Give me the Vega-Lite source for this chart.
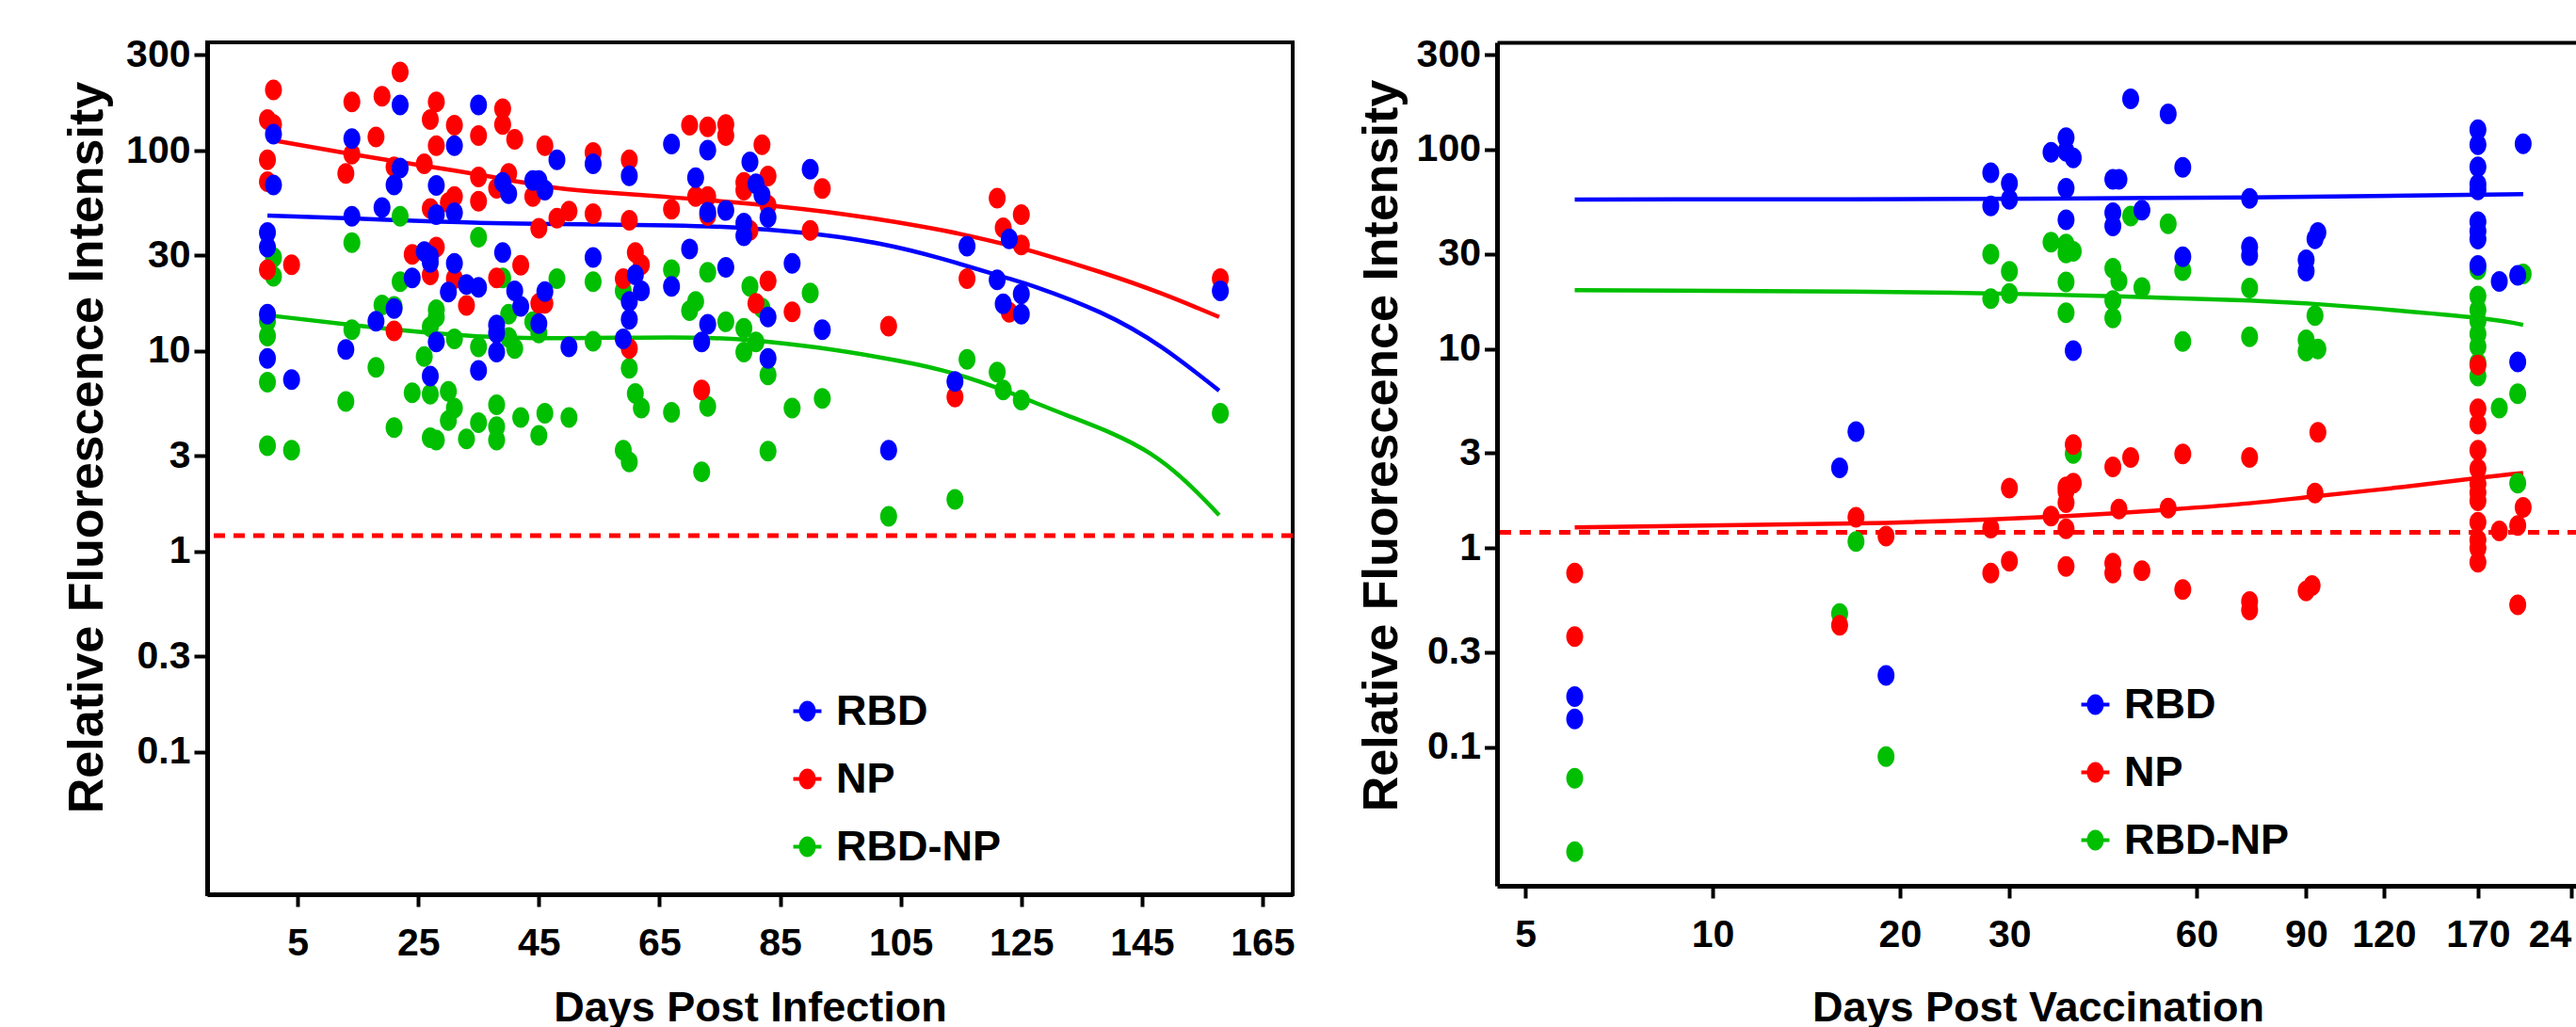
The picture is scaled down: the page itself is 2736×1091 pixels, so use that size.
{
  "$schema": "https://vega.github.io/schema/vega-lite/v6.json",
  "background": "white",
  "padding": {"left": 63, "top": 35, "right": 0, "bottom": 0},
  "bounds": "flush",
  "spacing": 217,
  "config": {
    "font": "Liberation Sans",
    "view": {"stroke": "black", "strokeWidth": 4},
    "axis": {"grid": false, "domainColor": "black", "tickColor": "black", "labelColor": "black", "titleColor": "black", "labelFont": "Liberation Sans", "titleFont": "Liberation Sans", "labelFontWeight": "bold", "titleFontWeight": "bold"},
    "legend": {"labelFont": "Liberation Sans", "labelFontWeight": "bold", "labelColor": "black", "labelLimit": 400}
  },
  "datasets": {
    "thr": [{"value": 1.2}],
    "leftpts": [
      {"antigen":"RBD-NP","day":0,"value":14.1},{"antigen":"RBD-NP","day":0,"value":11.9},{"antigen":"RBD-NP","day":0,"value":7},{"antigen":"RBD-NP","day":0,"value":3.37},{"antigen":"RBD-NP","day":1,"value":29.3},{"antigen":"RBD-NP","day":1,"value":23.6},{"antigen":"RBD-NP","day":4,"value":3.2},{"antigen":"RBD-NP","day":13,"value":5.6},{"antigen":"RBD-NP","day":14,"value":34.8},{"antigen":"RBD-NP","day":14,"value":12.8},{"antigen":"RBD-NP","day":18,"value":8.3},{"antigen":"RBD-NP","day":19,"value":17},{"antigen":"RBD-NP","day":21,"value":16.7},{"antigen":"RBD-NP","day":21,"value":4.15},{"antigen":"RBD-NP","day":22,"value":47},{"antigen":"RBD-NP","day":22,"value":22.2},{"antigen":"RBD-NP","day":24,"value":6.2},{"antigen":"RBD-NP","day":26,"value":9.4},{"antigen":"RBD-NP","day":27,"value":13.2},{"antigen":"RBD-NP","day":27,"value":6.1},{"antigen":"RBD-NP","day":27,"value":3.7},{"antigen":"RBD-NP","day":28,"value":16.1},{"antigen":"RBD-NP","day":28,"value":14.8},{"antigen":"RBD-NP","day":28,"value":3.6},{"antigen":"RBD-NP","day":30,"value":6.3},{"antigen":"RBD-NP","day":30,"value":4.5},{"antigen":"RBD-NP","day":31,"value":11.5},{"antigen":"RBD-NP","day":31,"value":5.2},{"antigen":"RBD-NP","day":33,"value":3.65},{"antigen":"RBD-NP","day":35,"value":37},{"antigen":"RBD-NP","day":35,"value":10.5},{"antigen":"RBD-NP","day":35,"value":4.4},{"antigen":"RBD-NP","day":38,"value":5.4},{"antigen":"RBD-NP","day":38,"value":4.2},{"antigen":"RBD-NP","day":38,"value":3.6},{"antigen":"RBD-NP","day":39,"value":23.2},{"antigen":"RBD-NP","day":40,"value":15.3},{"antigen":"RBD-NP","day":40,"value":11.7},{"antigen":"RBD-NP","day":41,"value":10.3},{"antigen":"RBD-NP","day":42,"value":4.66},{"antigen":"RBD-NP","day":44,"value":14},{"antigen":"RBD-NP","day":45,"value":12.3},{"antigen":"RBD-NP","day":45,"value":3.8},{"antigen":"RBD-NP","day":46,"value":4.9},{"antigen":"RBD-NP","day":48,"value":23},{"antigen":"RBD-NP","day":50,"value":4.66},{"antigen":"RBD-NP","day":54,"value":22.2},{"antigen":"RBD-NP","day":54,"value":11.2},{"antigen":"RBD-NP","day":59,"value":20},{"antigen":"RBD-NP","day":59,"value":3.2},{"antigen":"RBD-NP","day":60,"value":8.2},{"antigen":"RBD-NP","day":60,"value":2.8},{"antigen":"RBD-NP","day":61,"value":6.15},{"antigen":"RBD-NP","day":62,"value":5.2},{"antigen":"RBD-NP","day":67,"value":25.5},{"antigen":"RBD-NP","day":67,"value":4.95},{"antigen":"RBD-NP","day":70,"value":15.9},{"antigen":"RBD-NP","day":71,"value":17.7},{"antigen":"RBD-NP","day":72,"value":2.5},{"antigen":"RBD-NP","day":73,"value":24.7},{"antigen":"RBD-NP","day":73,"value":5.3},{"antigen":"RBD-NP","day":76,"value":14},{"antigen":"RBD-NP","day":79,"value":13},{"antigen":"RBD-NP","day":79,"value":9.9},{"antigen":"RBD-NP","day":80,"value":21},{"antigen":"RBD-NP","day":81,"value":11.1},{"antigen":"RBD-NP","day":82,"value":16.4},{"antigen":"RBD-NP","day":83,"value":7.6},{"antigen":"RBD-NP","day":83,"value":3.17},{"antigen":"RBD-NP","day":87,"value":5.2},{"antigen":"RBD-NP","day":90,"value":19.5},{"antigen":"RBD-NP","day":92,"value":5.8},{"antigen":"RBD-NP","day":103,"value":1.5},{"antigen":"RBD-NP","day":114,"value":1.82},{"antigen":"RBD-NP","day":116,"value":9.1},{"antigen":"RBD-NP","day":121,"value":7.85},{"antigen":"RBD-NP","day":122,"value":6.4},{"antigen":"RBD-NP","day":125,"value":5.7},{"antigen":"RBD-NP","day":158,"value":4.9},
      {"antigen":"NP","day":0,"value":143},{"antigen":"NP","day":0,"value":90},{"antigen":"NP","day":0,"value":70},{"antigen":"NP","day":0,"value":25.5},{"antigen":"NP","day":1,"value":201},{"antigen":"NP","day":1,"value":135},{"antigen":"NP","day":4,"value":27},{"antigen":"NP","day":13,"value":77},{"antigen":"NP","day":14,"value":175},{"antigen":"NP","day":14,"value":96},{"antigen":"NP","day":18,"value":117},{"antigen":"NP","day":19,"value":187},{"antigen":"NP","day":21,"value":83},{"antigen":"NP","day":21,"value":12.6},{"antigen":"NP","day":22,"value":247},{"antigen":"NP","day":24,"value":30.4},{"antigen":"NP","day":26,"value":86},{"antigen":"NP","day":27,"value":143},{"antigen":"NP","day":27,"value":51.5},{"antigen":"NP","day":27,"value":24},{"antigen":"NP","day":28,"value":175},{"antigen":"NP","day":28,"value":106},{"antigen":"NP","day":28,"value":33},{"antigen":"NP","day":30,"value":55},{"antigen":"NP","day":31,"value":134},{"antigen":"NP","day":31,"value":59},{"antigen":"NP","day":31,"value":23},{"antigen":"NP","day":33,"value":16.9},{"antigen":"NP","day":35,"value":119},{"antigen":"NP","day":35,"value":74},{"antigen":"NP","day":35,"value":56},{"antigen":"NP","day":38,"value":65},{"antigen":"NP","day":38,"value":23.2},{"antigen":"NP","day":39,"value":162},{"antigen":"NP","day":39,"value":135},{"antigen":"NP","day":40,"value":77},{"antigen":"NP","day":41,"value":114},{"antigen":"NP","day":42,"value":26.8},{"antigen":"NP","day":44,"value":59},{"antigen":"NP","day":45,"value":41},{"antigen":"NP","day":45,"value":17.3},{"antigen":"NP","day":46,"value":106},{"antigen":"NP","day":46,"value":17.3},{"antigen":"NP","day":48,"value":46},{"antigen":"NP","day":50,"value":50},{"antigen":"NP","day":54,"value":98},{"antigen":"NP","day":54,"value":48.5},{"antigen":"NP","day":59,"value":23},{"antigen":"NP","day":60,"value":90},{"antigen":"NP","day":60,"value":45},{"antigen":"NP","day":60,"value":10.3},{"antigen":"NP","day":61,"value":31},{"antigen":"NP","day":62,"value":27},{"antigen":"NP","day":67,"value":51},{"antigen":"NP","day":70,"value":134},{"antigen":"NP","day":71,"value":59},{"antigen":"NP","day":72,"value":6.4},{"antigen":"NP","day":73,"value":131.5},{"antigen":"NP","day":73,"value":59},{"antigen":"NP","day":73,"value":47.5},{"antigen":"NP","day":76,"value":135},{"antigen":"NP","day":76,"value":119},{"antigen":"NP","day":79,"value":69.5},{"antigen":"NP","day":79,"value":63.5},{"antigen":"NP","day":80,"value":40},{"antigen":"NP","day":81,"value":17.3},{"antigen":"NP","day":82,"value":107},{"antigen":"NP","day":83,"value":74.7},{"antigen":"NP","day":83,"value":53.4},{"antigen":"NP","day":83,"value":22.4},{"antigen":"NP","day":87,"value":15.7},{"antigen":"NP","day":90,"value":40},{"antigen":"NP","day":92,"value":64.7},{"antigen":"NP","day":103,"value":13.3},{"antigen":"NP","day":114,"value":5.9},{"antigen":"NP","day":116,"value":23},{"antigen":"NP","day":121,"value":58},{"antigen":"NP","day":122,"value":41.2},{"antigen":"NP","day":123,"value":15.6},{"antigen":"NP","day":125,"value":48},{"antigen":"NP","day":125,"value":33.8},{"antigen":"NP","day":158,"value":23},
      {"antigen":"RBD","day":0,"value":39},{"antigen":"RBD","day":0,"value":33},{"antigen":"RBD","day":0,"value":15.3},{"antigen":"RBD","day":0,"value":9.2},{"antigen":"RBD","day":1,"value":121},{"antigen":"RBD","day":1,"value":67.5},{"antigen":"RBD","day":4,"value":7.2},{"antigen":"RBD","day":13,"value":10.2},{"antigen":"RBD","day":14,"value":115},{"antigen":"RBD","day":14,"value":47},{"antigen":"RBD","day":18,"value":14.1},{"antigen":"RBD","day":19,"value":52},{"antigen":"RBD","day":21,"value":67.5},{"antigen":"RBD","day":21,"value":16.3},{"antigen":"RBD","day":22,"value":169},{"antigen":"RBD","day":22,"value":82},{"antigen":"RBD","day":24,"value":23.2},{"antigen":"RBD","day":26,"value":31.4},{"antigen":"RBD","day":27,"value":29.8},{"antigen":"RBD","day":27,"value":27.7},{"antigen":"RBD","day":27,"value":7.5},{"antigen":"RBD","day":28,"value":67},{"antigen":"RBD","day":28,"value":48},{"antigen":"RBD","day":28,"value":11.1},{"antigen":"RBD","day":30,"value":19.7},{"antigen":"RBD","day":31,"value":106},{"antigen":"RBD","day":31,"value":49},{"antigen":"RBD","day":31,"value":27.4},{"antigen":"RBD","day":33,"value":21.5},{"antigen":"RBD","day":35,"value":169},{"antigen":"RBD","day":35,"value":20.8},{"antigen":"RBD","day":35,"value":8},{"antigen":"RBD","day":38,"value":13.5},{"antigen":"RBD","day":38,"value":12.3},{"antigen":"RBD","day":38,"value":9.9},{"antigen":"RBD","day":39,"value":69.5},{"antigen":"RBD","day":39,"value":31},{"antigen":"RBD","day":40,"value":61},{"antigen":"RBD","day":41,"value":20},{"antigen":"RBD","day":42,"value":16.7},{"antigen":"RBD","day":44,"value":71},{"antigen":"RBD","day":45,"value":71},{"antigen":"RBD","day":45,"value":13.7},{"antigen":"RBD","day":46,"value":63.5},{"antigen":"RBD","day":46,"value":19.8},{"antigen":"RBD","day":48,"value":90},{"antigen":"RBD","day":50,"value":10.5},{"antigen":"RBD","day":54,"value":86},{"antigen":"RBD","day":54,"value":29.3},{"antigen":"RBD","day":59,"value":11.5},{"antigen":"RBD","day":60,"value":75},{"antigen":"RBD","day":60,"value":17.7},{"antigen":"RBD","day":60,"value":14.4},{"antigen":"RBD","day":61,"value":24},{"antigen":"RBD","day":62,"value":20},{"antigen":"RBD","day":67,"value":108},{"antigen":"RBD","day":67,"value":21},{"antigen":"RBD","day":70,"value":32.3},{"antigen":"RBD","day":71,"value":73.3},{"antigen":"RBD","day":72,"value":11.1},{"antigen":"RBD","day":73,"value":100.7},{"antigen":"RBD","day":73,"value":49.3},{"antigen":"RBD","day":73,"value":13.6},{"antigen":"RBD","day":76,"value":50.3},{"antigen":"RBD","day":76,"value":26.2},{"antigen":"RBD","day":79,"value":43.5},{"antigen":"RBD","day":79,"value":37.6},{"antigen":"RBD","day":80,"value":87.9},{"antigen":"RBD","day":81,"value":68.3},{"antigen":"RBD","day":82,"value":60.2},{"antigen":"RBD","day":83,"value":46.4},{"antigen":"RBD","day":83,"value":14.8},{"antigen":"RBD","day":83,"value":9.2},{"antigen":"RBD","day":87,"value":27.4},{"antigen":"RBD","day":90,"value":80.8},{"antigen":"RBD","day":92,"value":12.8},{"antigen":"RBD","day":103,"value":3.2},{"antigen":"RBD","day":114,"value":7.05},{"antigen":"RBD","day":116,"value":33.4},{"antigen":"RBD","day":121,"value":22.7},{"antigen":"RBD","day":122,"value":17.2},{"antigen":"RBD","day":123,"value":36.3},{"antigen":"RBD","day":125,"value":19.3},{"antigen":"RBD","day":125,"value":15.3},{"antigen":"RBD","day":158,"value":20}
    ],
    "leftfit": [
      {"antigen":"RBD","day":0,"value":47.4},{"antigen":"RBD","day":14,"value":45.9},{"antigen":"RBD","day":28.8,"value":44.2},{"antigen":"RBD","day":44.4,"value":43.2},{"antigen":"RBD","day":66.9,"value":42.4},{"antigen":"RBD","day":80.8,"value":40.8},{"antigen":"RBD","day":91.3,"value":38.2},{"antigen":"RBD","day":101.6,"value":34.3},{"antigen":"RBD","day":112,"value":28.8},{"antigen":"RBD","day":122.5,"value":23.2},{"antigen":"RBD","day":127.6,"value":20.8},{"antigen":"RBD","day":138.1,"value":15.6},{"antigen":"RBD","day":148.4,"value":10.4},{"antigen":"RBD","day":157.8,"value":6.35},
      {"antigen":"NP","day":0,"value":114},{"antigen":"NP","day":14,"value":96},{"antigen":"NP","day":26,"value":84},{"antigen":"NP","day":35,"value":76},{"antigen":"NP","day":46,"value":66.5},{"antigen":"NP","day":54,"value":62.5},{"antigen":"NP","day":67,"value":58.5},{"antigen":"NP","day":81,"value":54},{"antigen":"NP","day":96,"value":48},{"antigen":"NP","day":112,"value":40},{"antigen":"NP","day":122.5,"value":34},{"antigen":"NP","day":127.6,"value":31},{"antigen":"NP","day":138.1,"value":24.8},{"antigen":"NP","day":148.4,"value":19.3},{"antigen":"NP","day":157.8,"value":14.8},
      {"antigen":"RBD-NP","day":0,"value":15.1},{"antigen":"RBD-NP","day":14,"value":13.5},{"antigen":"RBD-NP","day":28.8,"value":12.2},{"antigen":"RBD-NP","day":44.4,"value":11.6},{"antigen":"RBD-NP","day":66.9,"value":11.7},{"antigen":"RBD-NP","day":80.8,"value":11.3},{"antigen":"RBD-NP","day":91.3,"value":10.4},{"antigen":"RBD-NP","day":101.6,"value":9.3},{"antigen":"RBD-NP","day":112,"value":8.0},{"antigen":"RBD-NP","day":122.5,"value":6.3},{"antigen":"RBD-NP","day":132.8,"value":4.75},{"antigen":"RBD-NP","day":146.4,"value":3.08},{"antigen":"RBD-NP","day":157.8,"value":1.52}
    ],
    "rightpts": [
      {"antigen":"RBD-NP","day":6,"value":0.07},{"antigen":"RBD-NP","day":6,"value":0.03},{"antigen":"RBD-NP","day":16,"value":0.47},{"antigen":"RBD-NP","day":17,"value":1.08},{"antigen":"RBD-NP","day":19,"value":0.09},{"antigen":"RBD-NP","day":28,"value":29.9},{"antigen":"RBD-NP","day":28,"value":17.9},{"antigen":"RBD-NP","day":30,"value":24.5},{"antigen":"RBD-NP","day":30,"value":19},{"antigen":"RBD-NP","day":35,"value":34.3},{"antigen":"RBD-NP","day":37,"value":33.6},{"antigen":"RBD-NP","day":37,"value":30.3},{"antigen":"RBD-NP","day":37,"value":21.7},{"antigen":"RBD-NP","day":37,"value":15.2},{"antigen":"RBD-NP","day":38,"value":30.9},{"antigen":"RBD-NP","day":38,"value":2.99},{"antigen":"RBD-NP","day":44,"value":25.4},{"antigen":"RBD-NP","day":44,"value":17.5},{"antigen":"RBD-NP","day":44,"value":14.3},{"antigen":"RBD-NP","day":45,"value":21.9},{"antigen":"RBD-NP","day":47,"value":46.5},{"antigen":"RBD-NP","day":49,"value":20.3},{"antigen":"RBD-NP","day":54,"value":42.5},{"antigen":"RBD-NP","day":57,"value":24.7},{"antigen":"RBD-NP","day":57,"value":10.9},{"antigen":"RBD-NP","day":73,"value":20.2},{"antigen":"RBD-NP","day":73,"value":11.5},{"antigen":"RBD-NP","day":90,"value":11.1},{"antigen":"RBD-NP","day":90,"value":9.75},{"antigen":"RBD-NP","day":93,"value":14.7},{"antigen":"RBD-NP","day":94,"value":10},{"antigen":"RBD-NP","day":170,"value":25},{"antigen":"RBD-NP","day":170,"value":18.4},{"antigen":"RBD-NP","day":170,"value":15.7},{"antigen":"RBD-NP","day":170,"value":13.8},{"antigen":"RBD-NP","day":170,"value":11.9},{"antigen":"RBD-NP","day":170,"value":10.3},{"antigen":"RBD-NP","day":170,"value":8.5},{"antigen":"RBD-NP","day":170,"value":7.3},{"antigen":"RBD-NP","day":184,"value":5.05},{"antigen":"RBD-NP","day":197,"value":5.96},{"antigen":"RBD-NP","day":197,"value":2.12},{"antigen":"RBD-NP","day":201,"value":23.8},
      {"antigen":"NP","day":6,"value":0.75},{"antigen":"NP","day":6,"value":0.36},{"antigen":"NP","day":16,"value":0.41},{"antigen":"NP","day":17,"value":1.43},{"antigen":"NP","day":19,"value":1.15},{"antigen":"NP","day":28,"value":1.26},{"antigen":"NP","day":28,"value":0.75},{"antigen":"NP","day":30,"value":2.0},{"antigen":"NP","day":30,"value":0.86},{"antigen":"NP","day":35,"value":1.45},{"antigen":"NP","day":37,"value":2.03},{"antigen":"NP","day":37,"value":1.93},{"antigen":"NP","day":37,"value":1.69},{"antigen":"NP","day":37,"value":1.25},{"antigen":"NP","day":37,"value":0.81},{"antigen":"NP","day":38,"value":3.31},{"antigen":"NP","day":38,"value":2.12},{"antigen":"NP","day":44,"value":2.56},{"antigen":"NP","day":44,"value":0.84},{"antigen":"NP","day":44,"value":0.75},{"antigen":"NP","day":45,"value":1.57},{"antigen":"NP","day":47,"value":2.85},{"antigen":"NP","day":49,"value":0.77},{"antigen":"NP","day":54,"value":1.59},{"antigen":"NP","day":57,"value":2.97},{"antigen":"NP","day":57,"value":0.62},{"antigen":"NP","day":73,"value":2.85},{"antigen":"NP","day":73,"value":0.54},{"antigen":"NP","day":73,"value":0.49},{"antigen":"NP","day":90,"value":0.61},{"antigen":"NP","day":92,"value":0.65},{"antigen":"NP","day":93,"value":1.89},{"antigen":"NP","day":94,"value":3.81},{"antigen":"NP","day":170,"value":8.3},{"antigen":"NP","day":170,"value":5.0},{"antigen":"NP","day":170,"value":4.2},{"antigen":"NP","day":170,"value":3.1},{"antigen":"NP","day":170,"value":2.5},{"antigen":"NP","day":170,"value":2.1},{"antigen":"NP","day":170,"value":1.9},{"antigen":"NP","day":170,"value":1.73},{"antigen":"NP","day":170,"value":1.35},{"antigen":"NP","day":170,"value":1.1},{"antigen":"NP","day":170,"value":1.0},{"antigen":"NP","day":170,"value":0.85},{"antigen":"NP","day":184,"value":1.22},{"antigen":"NP","day":197,"value":1.3},{"antigen":"NP","day":197,"value":0.52},{"antigen":"NP","day":201,"value":1.6},
      {"antigen":"RBD","day":6,"value":0.18},{"antigen":"RBD","day":6,"value":0.139},{"antigen":"RBD","day":16,"value":2.53},{"antigen":"RBD","day":17,"value":3.85},{"antigen":"RBD","day":19,"value":0.23},{"antigen":"RBD","day":28,"value":76.7},{"antigen":"RBD","day":28,"value":52.2},{"antigen":"RBD","day":30,"value":67.7},{"antigen":"RBD","day":30,"value":56.4},{"antigen":"RBD","day":35,"value":97},{"antigen":"RBD","day":37,"value":115},{"antigen":"RBD","day":37,"value":98},{"antigen":"RBD","day":37,"value":64},{"antigen":"RBD","day":37,"value":44.5},{"antigen":"RBD","day":38,"value":90.8},{"antigen":"RBD","day":38,"value":9.8},{"antigen":"RBD","day":44,"value":71},{"antigen":"RBD","day":44,"value":48.3},{"antigen":"RBD","day":44,"value":41.4},{"antigen":"RBD","day":45,"value":71},{"antigen":"RBD","day":47,"value":180},{"antigen":"RBD","day":49,"value":49.7},{"antigen":"RBD","day":54,"value":151},{"antigen":"RBD","day":57,"value":81.5},{"antigen":"RBD","day":57,"value":29},{"antigen":"RBD","day":73,"value":56.9},{"antigen":"RBD","day":73,"value":32.5},{"antigen":"RBD","day":73,"value":29.4},{"antigen":"RBD","day":90,"value":28},{"antigen":"RBD","day":90,"value":24.6},{"antigen":"RBD","day":93,"value":35.7},{"antigen":"RBD","day":94,"value":38.4},{"antigen":"RBD","day":170,"value":126},{"antigen":"RBD","day":170,"value":106},{"antigen":"RBD","day":170,"value":82},{"antigen":"RBD","day":170,"value":67},{"antigen":"RBD","day":170,"value":62.8},{"antigen":"RBD","day":170,"value":43.5},{"antigen":"RBD","day":170,"value":39},{"antigen":"RBD","day":170,"value":35.6},{"antigen":"RBD","day":170,"value":26.2},{"antigen":"RBD","day":184,"value":21.8},{"antigen":"RBD","day":197,"value":23.4},{"antigen":"RBD","day":197,"value":8.6},{"antigen":"RBD","day":201,"value":107}
    ],
    "rightfit": [
      {"antigen":"RBD","day":6,"value":56.2},{"antigen":"RBD","day":16.6,"value":56.4},{"antigen":"RBD","day":73,"value":57.6},{"antigen":"RBD","day":201,"value":59.8},
      {"antigen":"NP","day":6,"value":1.27},{"antigen":"NP","day":17,"value":1.33},{"antigen":"NP","day":37,"value":1.45},{"antigen":"NP","day":54,"value":1.56},{"antigen":"NP","day":73,"value":1.68},{"antigen":"NP","day":93,"value":1.82},{"antigen":"NP","day":129,"value":2.03},{"antigen":"NP","day":170,"value":2.25},{"antigen":"NP","day":201,"value":2.38},
      {"antigen":"RBD-NP","day":6,"value":19.7},{"antigen":"RBD-NP","day":16.6,"value":19.4},{"antigen":"RBD-NP","day":33,"value":18.8},{"antigen":"RBD-NP","day":73,"value":17.5},{"antigen":"RBD-NP","day":112,"value":16.1},{"antigen":"RBD-NP","day":170,"value":14.3},{"antigen":"RBD-NP","day":201,"value":13.2}
    ]
  },
  "resolve": {"legend": {"color": "independent"}},
  "hconcat": [
    {
      "width": 1153,
      "height": 905,
      "encoding": {
        "y": {"field": "value", "type": "quantitative",
          "scale": {"type": "log", "domain": [0.0195, 347], "nice": false},
          "axis": {"values": [0.1, 0.3, 1, 3, 10, 30, 100, 300], "format": "~g", "labelFontSize": 41, "tickSize": 14, "tickWidth": 4, "domainWidth": 5, "labelPadding": 4, "title": "Relative Fluorescence Intensity", "titleFontSize": 52, "titleBaseline": "alphabetic", "titleX": -112, "titleY": 430, "titleAngle": 270}
        }
      },
      "layer": [
        {
          "data": {"name": "leftfit"},
          "mark": {"type": "line", "strokeWidth": 4.5, "interpolate": "natural"},
          "encoding": {
            "x": {"field": "day", "type": "quantitative", "scale": {"domain": [-10, 170], "nice": false, "zero": false},
              "axis": {"values": [5, 25, 45, 65, 85, 105, 125, 145, 165], "labelFontSize": 41, "tickSize": 13, "tickWidth": 4, "domainWidth": 5, "labelPadding": 51.5, "labelBaseline": "alphabetic", "title": "Days Post Infection", "titleFontSize": 45, "titleBaseline": "alphabetic", "titleY": 134}},
            "stroke": {"field": "antigen", "type": "nominal", "scale": {"domain": ["RBD", "NP", "RBD-NP"], "range": ["#0000FF", "#FF0000", "#00BF00"]}, "legend": null}
          }
        },
        {
          "data": {"name": "thr"},
          "mark": {"type": "rule", "color": "#FF0000", "strokeWidth": 5, "strokeDash": [12, 9]},
          "encoding": {}
        },
        {
          "data": {"name": "leftpts"},
          "mark": {"type": "point", "filled": true, "opacity": 1, "strokeWidth": 0, "size": 484, "shape": "M0,-1C0.452,-1,0.818,-0.552,0.818,0C0.818,0.552,0.452,1,0,1C-0.452,1,-0.818,0.552,-0.818,0C-0.818,-0.552,-0.452,-1,0,-1Z"},
          "encoding": {
            "x": {"field": "day", "type": "quantitative", "scale": {"domain": [-10, 170], "nice": false, "zero": false},
              "axis": {"values": [5, 25, 45, 65, 85, 105, 125, 145, 165], "labelFontSize": 41, "tickSize": 13, "tickWidth": 4, "domainWidth": 5, "labelPadding": 51.5, "labelBaseline": "alphabetic", "title": "Days Post Infection", "titleFontSize": 45, "titleBaseline": "alphabetic", "titleY": 134}},
            "color": {"field": "antigen", "type": "nominal", "scale": {"domain": ["RBD", "NP", "RBD-NP"], "range": ["#0000FF", "#FF0000", "#00BF00"]},
              "legend": {"title": null, "orient": "none", "legendX": 615, "legendY": 688, "symbolType": "M-1.36,-0.18L1.36,-0.18L1.36,0.18L-1.36,0.18ZM0,-1C0.452,-1,0.818,-0.552,0.818,0C0.818,0.552,0.452,1,0,1C-0.452,1,-0.818,0.552,-0.818,0C-0.818,-0.552,-0.452,-1,0,-1Z", "symbolSize": 484, "symbolOpacity": 1, "labelFontSize": 45, "labelOffset": 8, "rowPadding": 26}}
          }
        }
      ]
    },
    {
      "width": 1149,
      "height": 896,
      "view": {"stroke": null},
      "encoding": {
        "y": {"field": "value", "type": "quantitative",
          "scale": {"type": "log", "domain": [0.0202, 345.6], "nice": false},
          "axis": {"values": [0.1, 0.3, 1, 3, 10, 30, 100, 300], "format": "~g", "labelFontSize": 41, "tickSize": 13.5, "tickWidth": 4, "domainWidth": 5, "labelPadding": 4, "title": "Relative Fluorescence Intensity", "titleFontSize": 52, "titleBaseline": "alphabetic", "titleX": -107, "titleY": 428, "titleAngle": 270}
        }
      },
      "resolve": {"axis": {"x": "independent"}},
      "layer": [
        {
          "data": {"name": "rightfit"},
          "mark": {"type": "line", "strokeWidth": 4.5, "interpolate": "natural"},
          "encoding": {
            "x": {"field": "day", "type": "quantitative", "scale": {"type": "log", "domain": [4.5, 247], "nice": false},
              "axis": {"orient": "top", "labels": false, "ticks": false, "title": null, "domainWidth": 4}},
            "stroke": {"field": "antigen", "type": "nominal", "scale": {"domain": ["RBD", "NP", "RBD-NP"], "range": ["#0000FF", "#FF0000", "#00BF00"]}, "legend": null}
          }
        },
        {
          "data": {"name": "thr"},
          "mark": {"type": "rule", "color": "#FF0000", "strokeWidth": 5, "strokeDash": [12, 9]},
          "encoding": {}
        },
        {
          "data": {"name": "rightpts"},
          "mark": {"type": "point", "filled": true, "opacity": 1, "strokeWidth": 0, "size": 484, "shape": "M0,-1C0.452,-1,0.818,-0.552,0.818,0C0.818,0.552,0.452,1,0,1C-0.452,1,-0.818,0.552,-0.818,0C-0.818,-0.552,-0.452,-1,0,-1Z"},
          "encoding": {
            "x": {"field": "day", "type": "quantitative", "scale": {"type": "log", "domain": [4.5, 247], "nice": false},
              "axis": {"orient": "bottom", "values": [5, 10, 20, 30, 60, 90, 120, 170, 240], "format": "~g", "labelExpr": "datum.value == 240 ? '24' : datum.label", "labelFlush": 10, "labelFontSize": 41, "tickSize": 13, "tickWidth": 4, "domainWidth": 5, "labelPadding": 51.5, "labelBaseline": "alphabetic", "title": "Days Post Vaccination", "titleFontSize": 45, "titleBaseline": "alphabetic", "titleY": 143}},
            "color": {"field": "antigen", "type": "nominal", "scale": {"domain": ["RBD", "NP", "RBD-NP"], "range": ["#0000FF", "#FF0000", "#00BF00"]},
              "legend": {"title": null, "orient": "none", "legendX": 613, "legendY": 681, "symbolType": "M-1.36,-0.18L1.36,-0.18L1.36,0.18L-1.36,0.18ZM0,-1C0.452,-1,0.818,-0.552,0.818,0C0.818,0.552,0.452,1,0,1C-0.452,1,-0.818,0.552,-0.818,0C-0.818,-0.552,-0.452,-1,0,-1Z", "symbolSize": 484, "symbolOpacity": 1, "labelFontSize": 45, "labelOffset": 8, "rowPadding": 26}}
          }
        }
      ]
    }
  ]
}
